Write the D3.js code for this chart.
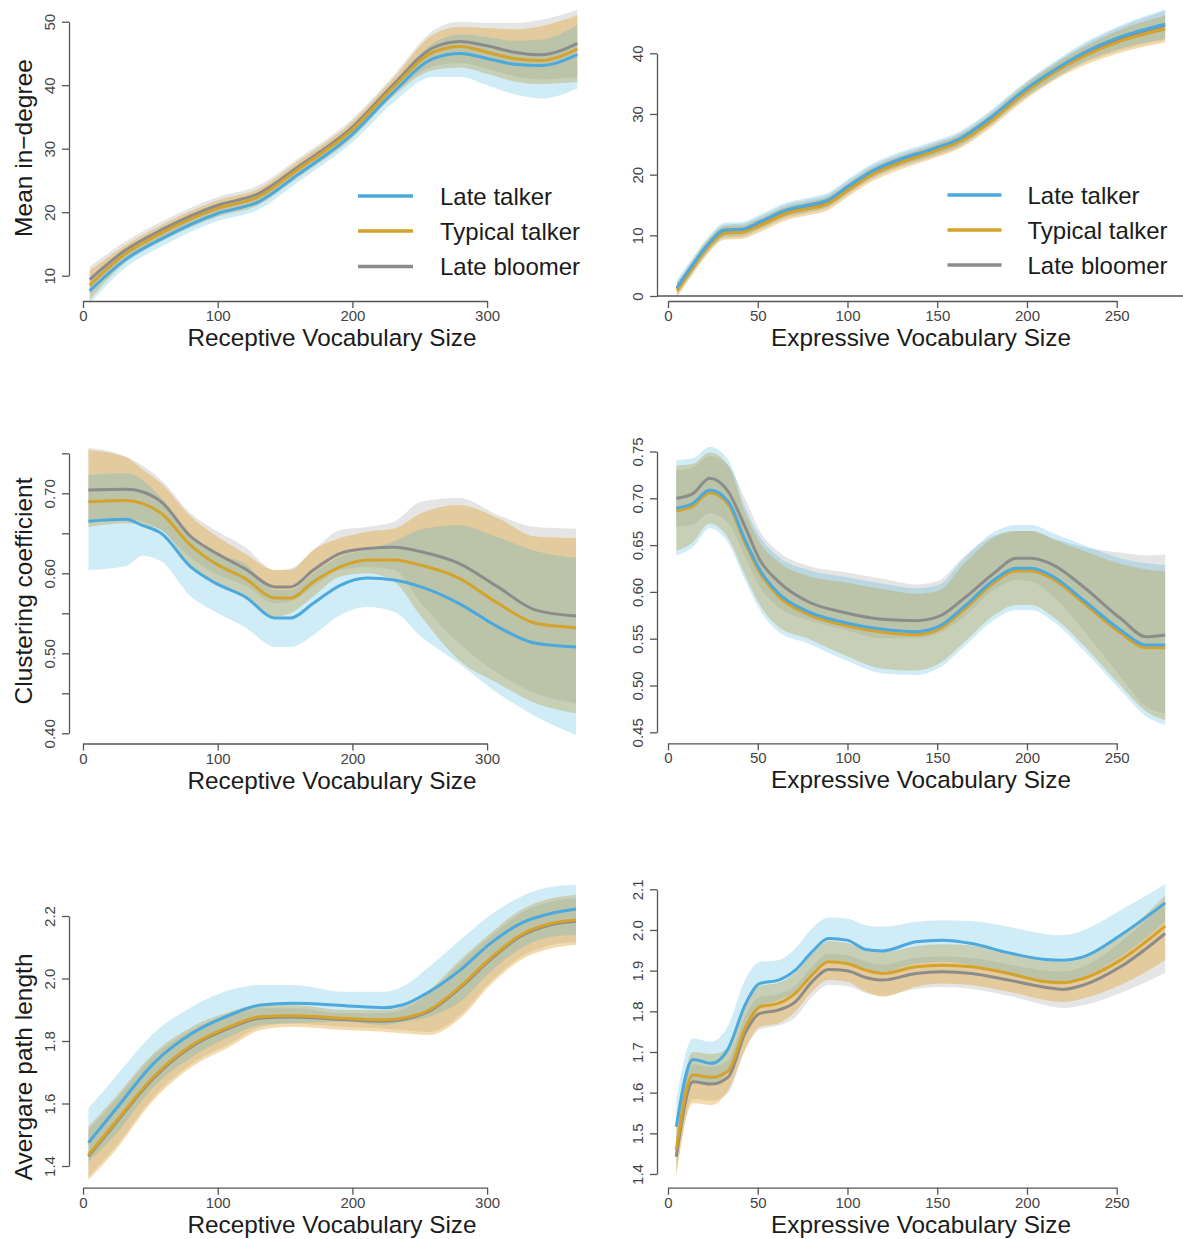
<!DOCTYPE html>
<html><head><meta charset="utf-8">
<script src="https://cdn.jsdelivr.net/npm/d3@7"></script>
<style>
body{margin:0;background:#fff}
svg{display:block}
text{font-family:"Liberation Sans",Arial,Helvetica,sans-serif}
</style>
</head><body>
<svg id="c" width="1183" height="1239"></svg>
<script>
// ---------------- DATA ----------------
const seriesNames = ["Late talker", "Typical talker", "Late bloomer"];
const xTitleRec = "Receptive Vocabulary Size";
const xTitleExp = "Expressive Vocabulary Size";
const yTitles = ["Mean in\u2212degree", "Clustering coefficient", "Avergare path length"];

const xTicksRec = [0, 100, 200, 300];
const xTicksExp = [0, 50, 100, 150, 200, 250];
const yTicksP1 = [10, 20, 30, 40, 50];
const yTicksP2 = [0, 10, 20, 30, 40];
const yTicksP3 = [0.40, 0.45, 0.50, 0.55, 0.60, 0.65, 0.70, 0.75];
const yLabelsP3 = ["0.40", "", "0.50", "", "0.60", "", "0.70", ""];
const yTicksP4 = [0.45, 0.50, 0.55, 0.60, 0.65, 0.70, 0.75];
const yLabelsP4 = ["0.45", "0.50", "0.55", "0.60", "0.65", "0.70", "0.75"];
const yTicksP5 = [1.4, 1.6, 1.8, 2.0, 2.2];
const yLabelsP5 = ["1.4", "1.6", "1.8", "2.0", "2.2"];
const yTicksP6 = [1.4, 1.5, 1.6, 1.7, 1.8, 1.9, 2.0, 2.1];
const yLabelsP6 = ["1.4", "1.5", "1.6", "1.7", "1.8", "1.9", "2.0", "2.1"];

// Panel 1: Mean in-degree vs receptive vocabulary
const p1X      = [5, 30, 60, 100, 130, 160, 200, 230, 260, 280, 300, 320, 340, 367];
const p1Blue   = [7.6, 12.3, 16.0, 19.8, 21.6, 26.0, 32.3, 38.8, 44.2, 45.0, 44.2, 43.3, 43.1, 44.8];
const p1BlueLo = [5.6, 11.0, 14.8, 18.6, 20.4, 24.8, 31.0, 37.2, 41.3, 41.3, 40.0, 38.6, 37.9, 39.5];
const p1BlueHi = [9.6, 13.6, 17.2, 21.0, 22.8, 27.2, 33.6, 40.3, 46.6, 48.0, 47.6, 47.0, 47.2, 49.5];
const p1Orng   = [8.5, 13.2, 16.9, 20.6, 22.4, 26.8, 33.0, 39.6, 45.2, 46.1, 45.2, 44.2, 43.9, 45.7];
const p1OrngLo = [6.2, 11.8, 15.6, 19.3, 21.1, 25.5, 31.7, 38.2, 42.4, 42.8, 41.8, 40.6, 40.2, 40.5];
const p1OrngHi = [10.8, 14.6, 18.2, 21.9, 23.7, 28.1, 34.3, 41.0, 48.0, 49.2, 49.0, 48.8, 49.3, 51.0];
const p1Grey   = [9.4, 13.8, 17.4, 21.1, 22.9, 27.2, 33.4, 40.0, 45.9, 46.9, 46.2, 45.2, 44.8, 46.6];
const p1GreyLo = [7.2, 12.4, 16.1, 19.8, 21.6, 25.9, 32.1, 38.6, 43.0, 43.5, 42.6, 41.4, 40.9, 41.3];
const p1GreyHi = [11.4, 15.2, 18.7, 22.4, 24.2, 28.5, 34.7, 41.4, 48.6, 50.0, 49.8, 49.8, 50.3, 51.9];

// Panel 2: Mean in-degree vs expressive vocabulary
const p2X      = [5, 13, 22, 32, 41, 51, 66, 78, 89, 100, 115, 128, 148, 163, 178, 198, 215, 231, 252, 277];
const p2Blue   = [1.4, 4.8, 8.4, 10.9, 11.0, 12.2, 14.2, 15.0, 15.8, 18.0, 20.8, 22.4, 24.3, 26.0, 29.0, 33.8, 37.2, 40.0, 42.7, 44.8];
const p2BlueLo = [0.3, 3.7, 7.3, 9.8, 10.0, 11.1, 13.1, 13.9, 14.7, 16.9, 19.7, 21.3, 23.2, 24.9, 27.9, 32.6, 35.9, 38.5, 40.8, 42.4];
const p2BlueHi = [2.6, 6.0, 9.6, 12.1, 12.2, 13.4, 15.4, 16.2, 17.0, 19.2, 22.0, 23.6, 25.5, 27.2, 30.2, 35.0, 38.6, 41.6, 44.6, 47.2];
const p2Orng   = [0.9, 4.3, 8.0, 10.4, 10.5, 11.6, 13.6, 14.4, 15.2, 17.4, 20.2, 21.8, 23.8, 25.5, 28.4, 33.3, 36.8, 39.4, 42.0, 44.0];
const p2OrngLo = [-0.2, 3.2, 6.9, 9.3, 9.4, 10.5, 12.5, 13.3, 14.1, 16.3, 19.1, 20.7, 22.7, 24.4, 27.3, 32.1, 35.5, 37.9, 40.1, 41.8];
const p2OrngHi = [2.0, 5.4, 9.1, 11.5, 11.6, 12.7, 14.7, 15.5, 16.3, 18.5, 21.3, 22.9, 24.9, 26.6, 29.5, 34.5, 38.1, 40.9, 43.9, 46.2];
const p2Grey   = [1.2, 4.6, 8.2, 10.7, 10.8, 12.0, 14.0, 14.8, 15.6, 17.8, 20.6, 22.2, 24.1, 25.8, 28.8, 33.6, 37.0, 39.8, 42.4, 44.6];
const p2GreyLo = [0.1, 3.5, 7.1, 9.6, 9.7, 10.9, 12.9, 13.7, 14.5, 16.7, 19.5, 21.1, 23.0, 24.7, 27.7, 32.4, 35.7, 38.3, 40.5, 42.2];
const p2GreyHi = [2.3, 5.7, 9.3, 11.8, 11.9, 13.1, 15.1, 15.9, 16.7, 18.9, 21.7, 23.3, 25.2, 26.9, 29.9, 34.8, 38.3, 41.3, 44.3, 47.0];

// Panel 3: Clustering coefficient vs receptive vocabulary
const p3X      = [4, 32, 44, 58, 80, 98, 120, 143, 154, 171, 191, 211, 231, 251, 279, 308, 336, 366];
const p3Blue   = [0.665, 0.6675, 0.660, 0.650, 0.608, 0.588, 0.571, 0.544, 0.544, 0.5625, 0.585, 0.594, 0.5916, 0.583, 0.5625, 0.533, 0.5125, 0.508];
const p3BlueLo = [0.604, 0.609, 0.622, 0.615, 0.571, 0.552, 0.533, 0.508, 0.508, 0.523, 0.548, 0.558, 0.552, 0.521, 0.4875, 0.45, 0.421, 0.398];
const p3BlueHi = [0.723, 0.725, 0.717, 0.694, 0.646, 0.625, 0.6125, 0.579, 0.579, 0.600, 0.621, 0.629, 0.640, 0.655, 0.660, 0.645, 0.628, 0.619];
const p3Orng   = [0.6895, 0.691, 0.6875, 0.675, 0.635, 0.6125, 0.594, 0.569, 0.569, 0.5895, 0.608, 0.6166, 0.6166, 0.610, 0.594, 0.5625, 0.5375, 0.532];
const p3OrngLo = [0.658, 0.6625, 0.660, 0.654, 0.608, 0.5875, 0.571, 0.546, 0.55, 0.571, 0.596, 0.60, 0.5895, 0.546, 0.4916, 0.4625, 0.4375, 0.425];
const p3OrngHi = [0.754, 0.745, 0.73, 0.7125, 0.671, 0.648, 0.625, 0.604, 0.604, 0.629, 0.644, 0.652, 0.656, 0.675, 0.6855, 0.669, 0.646, 0.644];
const p3Grey   = [0.704, 0.705, 0.702, 0.6895, 0.646, 0.626, 0.606, 0.583, 0.583, 0.604, 0.625, 0.631, 0.6325, 0.627, 0.6125, 0.583, 0.554, 0.5466];
const p3GreyLo = [0.6666, 0.668, 0.665, 0.654, 0.619, 0.60, 0.585, 0.5625, 0.565, 0.583, 0.604, 0.608, 0.604, 0.5625, 0.5125, 0.475, 0.45, 0.4375];
const p3GreyHi = [0.757, 0.7458, 0.735, 0.7166, 0.675, 0.654, 0.633, 0.604, 0.606, 0.629, 0.654, 0.658, 0.6645, 0.6895, 0.694, 0.673, 0.658, 0.656];

// Panel 4: Clustering coefficient vs expressive vocabulary
const p4X      = [4.6, 13.9, 23.2, 33.6, 42.9, 51.2, 61.5, 78.1, 98.8, 119.5, 138.2, 150.6, 165, 181.6, 194, 202.3, 214.8, 231.4, 252.1, 266.6, 277];
const p4Blue   = [0.6893, 0.6947, 0.7089, 0.6964, 0.6555, 0.6234, 0.5985, 0.5789, 0.5671, 0.5600, 0.5575, 0.5628, 0.5842, 0.6127, 0.6252, 0.6252, 0.6162, 0.5913, 0.5593, 0.5433, 0.5433];
const p4BlueLo = [0.639, 0.648, 0.668, 0.652, 0.6127, 0.5807, 0.5575, 0.545, 0.5272, 0.513, 0.5112, 0.5184, 0.5415, 0.57, 0.5807, 0.5807, 0.5682, 0.5379, 0.4952, 0.4667, 0.4578];
const p4BlueHi = [0.741, 0.7427, 0.755, 0.741, 0.691, 0.659, 0.6376, 0.6234, 0.616, 0.609, 0.6038, 0.6073, 0.636, 0.664, 0.6715, 0.6715, 0.6626, 0.65, 0.636, 0.6305, 0.6287];
const p4Orng   = [0.6863, 0.6917, 0.7059, 0.6934, 0.6525, 0.6204, 0.5955, 0.5759, 0.5641, 0.5570, 0.5545, 0.5598, 0.5812, 0.6097, 0.6222, 0.6222, 0.6132, 0.5883, 0.5563, 0.5403, 0.5403];
const p4OrngLo = [0.644, 0.653, 0.673, 0.657, 0.618, 0.586, 0.5625, 0.55, 0.532, 0.518, 0.516, 0.523, 0.546, 0.575, 0.586, 0.586, 0.573, 0.543, 0.500, 0.472, 0.463];
const p4OrngHi = [0.735, 0.737, 0.749, 0.735, 0.685, 0.653, 0.632, 0.617, 0.610, 0.603, 0.598, 0.601, 0.630, 0.658, 0.665, 0.665, 0.656, 0.644, 0.630, 0.624, 0.622];
const p4Grey   = [0.700, 0.705, 0.7214, 0.707, 0.6697, 0.634, 0.611, 0.5895, 0.5778, 0.5707, 0.5692, 0.5735, 0.5932, 0.62, 0.636, 0.636, 0.6287, 0.6055, 0.5718, 0.5521, 0.554];
const p4GreyLo = [0.6697, 0.672, 0.684, 0.673, 0.6376, 0.6055, 0.584, 0.57, 0.5593, 0.5504, 0.5504, 0.5558, 0.5735, 0.602, 0.6127, 0.611, 0.5949, 0.5593, 0.5094, 0.4773, 0.4703];
const p4GreyHi = [0.730, 0.733, 0.745, 0.735, 0.70, 0.665, 0.643, 0.628, 0.621, 0.614, 0.608, 0.612, 0.638, 0.66, 0.665, 0.665, 0.657, 0.648, 0.642, 0.639, 0.64];

// Panel 5: Average path length vs receptive vocabulary
const p5X      = [4, 24, 52.5, 81, 109, 132, 155, 194.5, 223, 237, 257, 280, 302.5, 325, 348, 366];
const p5Blue   = [1.4746, 1.58, 1.7286, 1.8246, 1.8832, 1.9152, 1.9206, 1.913, 1.9066, 1.915, 1.9578, 2.027, 2.1126, 2.1766, 2.2086, 2.2224];
const p5BlueLo = [1.4138, 1.50, 1.6538, 1.7498, 1.8138, 1.8512, 1.8566, 1.8618, 1.8512, 1.86, 1.8778, 1.9258, 2.0218, 2.0966, 2.1338, 2.1392];
const p5BlueHi = [1.5846, 1.685, 1.8246, 1.9098, 1.9632, 1.9792, 1.9792, 1.9578, 1.9578, 1.9738, 2.0378, 2.1232, 2.2032, 2.2618, 2.2938, 2.2992];
const p5Orng   = [1.4352, 1.54, 1.6858, 1.7872, 1.8458, 1.8778, 1.881, 1.8726, 1.8672, 1.8726, 1.8992, 1.9738, 2.0646, 2.1392, 2.1766, 2.1872];
const p5OrngLo = [1.3552, 1.45, 1.6112, 1.7178, 1.7818, 1.8352, 1.8458, 1.8352, 1.8298, 1.8246, 1.8192, 1.8726, 1.9792, 2.0592, 2.0966, 2.1072];
const p5OrngHi = [1.5258, 1.62, 1.7606, 1.8458, 1.8938, 1.9152, 1.9152, 1.8992, 1.8992, 1.9098, 1.9632, 2.0592, 2.1446, 2.2192, 2.2566, 2.2672];
const p5Grey   = [1.4312, 1.536, 1.6818, 1.7832, 1.8418, 1.8738, 1.877, 1.8686, 1.8632, 1.8686, 1.8952, 1.9698, 2.0606, 2.1352, 2.1726, 2.1832];
const p5GreyLo = [1.365, 1.46, 1.621, 1.728, 1.792, 1.845, 1.856, 1.845, 1.840, 1.835, 1.829, 1.883, 1.989, 2.069, 2.107, 2.117];
const p5GreyHi = [1.516, 1.61, 1.751, 1.836, 1.884, 1.905, 1.905, 1.889, 1.889, 1.900, 1.953, 2.049, 2.135, 2.209, 2.247, 2.257];

// Panel 6: Average path length vs expressive vocabulary
const p6X      = [4.6, 13.9, 24.2, 33.6, 42.9, 51.2, 61.5, 70.9, 80.2, 89.5, 99.8, 110.2, 119.5, 138.2, 152.6, 169.2, 189.9, 210.6, 219.9, 231.4, 252.1, 277];
const p6Blue   = [1.5162, 1.6818, 1.672, 1.7088, 1.8152, 1.8685, 1.8767, 1.9012, 1.9462, 1.979, 1.975, 1.952, 1.9486, 1.9708, 1.975, 1.9668, 1.9437, 1.9275, 1.9258, 1.934, 1.9872, 2.0666];
const p6BlueLo = [1.467, 1.631, 1.6187, 1.6555, 1.7538, 1.811, 1.8275, 1.8479, 1.8931, 1.9258, 1.9216, 1.9012, 1.8971, 1.9177, 1.9216, 1.9135, 1.8889, 1.8725, 1.87, 1.8848, 1.934, 2.02];
const p6BlueHi = [1.5818, 1.7334, 1.725, 1.7661, 1.8767, 1.9216, 1.9258, 1.9545, 2.0036, 2.0307, 2.0282, 2.0118, 2.0077, 2.02, 2.0241, 2.022, 2.0077, 1.9897, 1.9872, 1.9995, 2.0486, 2.1125];
const p6Orng   = [1.459, 1.6432, 1.6376, 1.6538, 1.758, 1.811, 1.8194, 1.844, 1.8889, 1.9216, 1.9177, 1.9012, 1.8931, 1.9094, 1.9135, 1.9094, 1.8931, 1.8725, 1.8701, 1.8808, 1.9258, 2.0093];
const p6OrngLo = [1.397, 1.5737, 1.5695, 1.6064, 1.7047, 1.7619, 1.7703, 1.7988, 1.8479, 1.8767, 1.8725, 1.848, 1.8356, 1.8602, 1.8685, 1.864, 1.848, 1.8275, 1.823, 1.8316, 1.8644, 1.9258];
const p6OrngHi = [1.52, 1.70, 1.695, 1.71, 1.81, 1.862, 1.87, 1.895, 1.94, 1.972, 1.968, 1.952, 1.945, 1.96, 1.965, 1.962, 1.945, 1.925, 1.922, 1.93, 1.985, 2.085];
const p6Grey   = [1.4426, 1.6268, 1.6211, 1.639, 1.7457, 1.7948, 1.803, 1.8233, 1.8725, 1.903, 1.8995, 1.8833, 1.8767, 1.8931, 1.8971, 1.8931, 1.8767, 1.8587, 1.8538, 1.8644, 1.9094, 1.9914];
const p6GreyLo = [1.40, 1.585, 1.58, 1.60, 1.705, 1.755, 1.765, 1.785, 1.835, 1.865, 1.862, 1.845, 1.838, 1.855, 1.86, 1.855, 1.838, 1.815, 1.808, 1.815, 1.845, 1.895];
const p6GreyHi = [1.485, 1.67, 1.663, 1.68, 1.787, 1.835, 1.842, 1.862, 1.91, 1.942, 1.938, 1.922, 1.915, 1.932, 1.935, 1.932, 1.915, 1.90, 1.898, 1.91, 1.97, 2.07];

// ---------------- STYLE / LAYOUT ----------------
const lineColors = {blue: "#4BA9DD", orng: "#D5A22B", grey: "#8C8C8C"};
const bandFill   = {blue: "rgb(40,170,215)", orng: "rgb(225,160,40)", grey: "rgb(153,153,153)"};
const bandAlpha  = {blue: 0.22, orng: 0.38, grey: 0.25};
const axisColor = "#555";
const tickTextColor = "#444";
const titleColor = "#1b1b1b";

const leftCol  = {xd: [0, 300], xr: [83, 487.1], axX: 69,  ticks: xTicksRec, title: xTitleRec, titleX: 332};
const rightCol = {xd: [0, 250], xr: [668, 1116.7], axX: 657, ticks: xTicksExp, title: xTitleExp, titleX: 921};

const panels = [
  {col: leftCol,  yd: [10, 50],     yr: [275.7, 21.7], axY: 301,    yt: yTicksP1, yl: yTicksP1.map(String),
   x: p1X, s: {blue:[p1Blue,p1BlueLo,p1BlueHi], orng:[p1Orng,p1OrngLo,p1OrngHi], grey:[p1Grey,p1GreyLo,p1GreyHi]},
   yTitle: yTitles[0], yTitleY: 148, legend: {x1: 358, x2: 413, tx: 440, rows: [196, 231, 266.5]}},
  {col: rightCol, yd: [0, 40],      yr: [296, 53.3],   axY: 301,    yt: yTicksP2, yl: yTicksP2.map(String),
   x: p2X, s: {blue:[p2Blue,p2BlueLo,p2BlueHi], orng:[p2Orng,p2OrngLo,p2OrngHi], grey:[p2Grey,p2GreyLo,p2GreyHi]},
   hline: 0, legend: {x1: 947.5, x2: 1001.5, tx: 1027.5, rows: [195, 230, 265]}},
  {col: leftCol,  yd: [0.40, 0.75], yr: [733.3, 453.3], axY: 743.5, yt: yTicksP3, yl: yLabelsP3,
   x: p3X, s: {blue:[p3Blue,p3BlueLo,p3BlueHi], orng:[p3Orng,p3OrngLo,p3OrngHi], grey:[p3Grey,p3GreyLo,p3GreyHi]},
   yTitle: yTitles[1], yTitleY: 591},
  {col: rightCol, yd: [0.45, 0.75], yr: [732.3, 451.5], axY: 743.3, yt: yTicksP4, yl: yLabelsP4,
   x: p4X, s: {blue:[p4Blue,p4BlueLo,p4BlueHi], orng:[p4Orng,p4OrngLo,p4OrngHi], grey:[p4Grey,p4GreyLo,p4GreyHi]}},
  {col: leftCol,  yd: [1.4, 2.2],   yr: [1166, 916],   axY: 1187.7, yt: yTicksP5, yl: yLabelsP5,
   x: p5X, s: {blue:[p5Blue,p5BlueLo,p5BlueHi], orng:[p5Orng,p5OrngLo,p5OrngHi], grey:[p5Grey,p5GreyLo,p5GreyHi]},
   yTitle: yTitles[2], yTitleY: 1067},
  {col: rightCol, yd: [1.4, 2.1],   yr: [1174, 889.3], axY: 1187.7, yt: yTicksP6, yl: yLabelsP6,
   x: p6X, s: {blue:[p6Blue,p6BlueLo,p6BlueHi], orng:[p6Orng,p6OrngLo,p6OrngHi], grey:[p6Grey,p6GreyLo,p6GreyHi]}}
];

const svg = d3.select("#c");
svg.append("rect").attr("width", 1183).attr("height", 1239).attr("fill", "#fff");

const drawOrder = ["grey", "orng", "blue"];

panels.forEach(P => {
  const x = d3.scaleLinear().domain(P.col.xd).range(P.col.xr);
  const y = d3.scaleLinear().domain(P.yd).range(P.yr);
  const g = svg.append("g");

  // bands
  drawOrder.forEach(k => {
    const [m, lo, hi] = P.s[k];
    const pts = P.x.map((xv, i) => ({x: xv, lo: lo[i], hi: hi[i]}));
    g.append("path")
      .attr("d", d3.area().x(d => x(d.x)).y0(d => y(d.lo)).y1(d => y(d.hi)).curve(d3.curveMonotoneX)(pts))
      .attr("fill", bandFill[k]).attr("fill-opacity", bandAlpha[k]).attr("stroke", "none");
  });
  // lines
  drawOrder.forEach(k => {
    const m = P.s[k][0];
    const pts = P.x.map((xv, i) => ({x: xv, v: m[i]}));
    g.append("path")
      .attr("d", d3.line().x(d => x(d.x)).y(d => y(d.v)).curve(d3.curveMonotoneX)(pts))
      .attr("fill", "none").attr("stroke", lineColors[k]).attr("stroke-width", 3)
      .attr("stroke-linejoin", "round").attr("stroke-linecap", "butt");
  });

  if (P.hline !== undefined) {
    g.append("line").attr("x1", P.col.axX).attr("x2", 1183)
      .attr("y1", y(P.hline)).attr("y2", y(P.hline))
      .attr("stroke", axisColor).attr("stroke-width", 1.3);
  }

  // x axis
  const gx = svg.append("g").attr("transform", `translate(0,${P.axY})`)
    .call(d3.axisBottom(x).tickValues(P.col.ticks).tickSize(7).tickSizeOuter(0).tickFormat(d3.format("d")));
  gx.select(".domain").attr("stroke", axisColor).attr("stroke-width", 1.3);
  gx.selectAll(".tick line").attr("stroke", axisColor).attr("stroke-width", 1.3);
  gx.selectAll(".tick text").attr("y", 20).attr("dy", 0)
    .attr("fill", tickTextColor).attr("font-size", 15)
    .attr("font-family", '"Liberation Sans",Arial,sans-serif');

  // y axis
  const gy = svg.append("g").attr("transform", `translate(${P.col.axX},0)`)
    .call(d3.axisLeft(y).tickValues(P.yt).tickSize(7).tickSizeOuter(0)
      .tickFormat((d, i) => P.yl[i]));
  gy.select(".domain").attr("stroke", axisColor).attr("stroke-width", 1.3);
  gy.selectAll(".tick line").attr("stroke", axisColor).attr("stroke-width", 1.3);
  gy.selectAll(".tick text").attr("x", 0).attr("y", 0).attr("dy", 0)
    .attr("transform", "translate(-14.5,0) rotate(-90)")
    .attr("text-anchor", "middle")
    .attr("fill", tickTextColor).attr("font-size", 15)
    .attr("font-family", '"Liberation Sans",Arial,sans-serif');

  // x title
  svg.append("text").attr("x", P.col.titleX).attr("y", P.axY + 45)
    .attr("text-anchor", "middle").attr("font-size", 24.3).attr("fill", titleColor)
    .text(P.col.title);

  // y title
  if (P.yTitle) {
    svg.append("text").attr("transform", `translate(32,${P.yTitleY}) rotate(-90)`)
      .attr("text-anchor", "middle").attr("font-size", 24.5).attr("fill", titleColor)
      .text(P.yTitle);
  }

  // legend
  if (P.legend) {
    const L = P.legend;
    ["blue", "orng", "grey"].forEach((k, i) => {
      svg.append("line").attr("x1", L.x1).attr("x2", L.x2)
        .attr("y1", L.rows[i]).attr("y2", L.rows[i])
        .attr("stroke", lineColors[k]).attr("stroke-width", 3.5);
      svg.append("text").attr("x", L.tx).attr("y", L.rows[i] + 8.5)
        .attr("font-size", 24).attr("fill", titleColor).text(seriesNames[i]);
    });
  }
});
</script>
</body></html>
